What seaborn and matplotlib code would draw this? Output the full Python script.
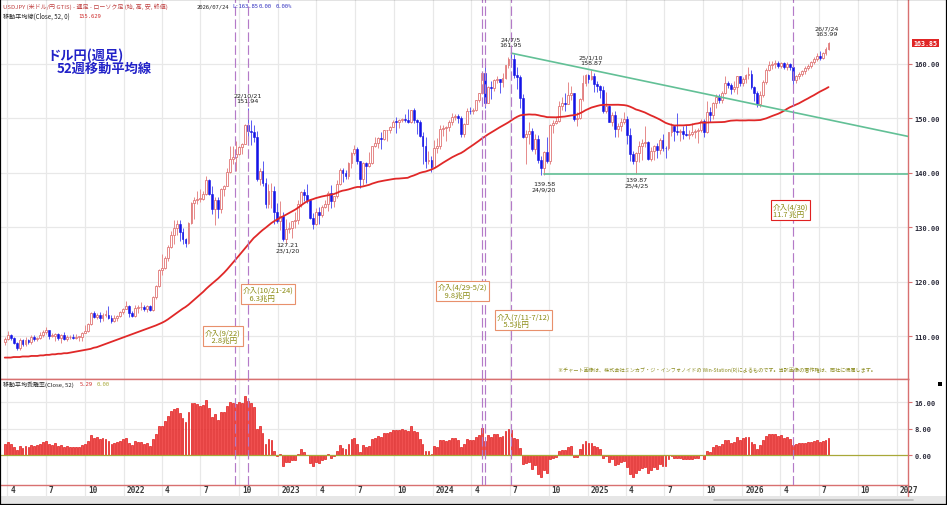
import numpy as np
import pandas as pd
import matplotlib
matplotlib.use("Agg")
import matplotlib.pyplot as plt
import matplotlib.dates as mdates
import matplotlib.transforms as mtrans
from matplotlib.patches import Rectangle
from matplotlib.lines import Line2D
import seaborn as sns

# ---------------- data (weekly USD/JPY) ----------------
first_week = "2021-03-26"
last_week = "2026-07-24"
first_open = 108.9

closes = [
    # 2021
    109.6, 110.3, 109.7, 108.8, 107.9, 109.3, 108.6, 109.4, 108.9, 109.8,
    109.5, 109.7, 110.2, 110.8, 111.1, 110.1, 110.1, 110.5, 109.7, 110.2,
    109.6, 109.8, 109.8, 109.7, 109.9, 109.9, 110.7, 111.0, 112.2, 114.2,
    113.5, 114.0, 113.4, 114.0, 114.0, 113.4, 112.8, 113.4, 113.7, 114.4,
    115.1,
    # 2022
    115.6, 114.2, 113.7, 115.2, 115.3, 115.4, 115.0, 115.5, 114.8, 117.3,
    119.2, 122.1, 122.5, 124.3, 126.4, 128.5, 129.8, 130.6, 129.2, 127.9,
    127.1, 130.8, 134.4, 135.0, 135.2, 135.2, 136.1, 138.6, 136.1, 133.3,
    135.0, 133.4, 137.0, 137.5, 140.2, 142.6, 142.9, 143.4, 144.7, 145.3,
    148.7, 147.6, 147.5, 146.6, 138.8, 140.4, 138.2, 134.3, 136.6, 136.7,
    132.8, 131.1,
    # 2023
    132.1, 127.9, 129.6, 129.9, 131.2, 131.4, 134.2, 136.5, 135.9, 135.0,
    131.8, 130.7, 132.8, 132.2, 133.7, 134.2, 136.3, 134.8, 135.7, 138.0,
    140.6, 139.9, 139.4, 141.8, 143.7, 144.3, 142.1, 138.8, 141.8, 141.2,
    141.8, 144.9, 145.4, 146.4, 146.2, 147.8, 147.9, 148.4, 149.4, 149.3,
    149.6, 149.9, 149.7, 149.4, 151.5, 149.6, 149.4, 146.8, 144.9, 142.2,
    142.4, 141.0,
    # 2024
    144.6, 144.9, 148.1, 148.2, 148.4, 149.3, 150.2, 150.5, 150.1, 147.1,
    149.0, 151.4, 151.3, 151.6, 153.3, 154.6, 158.3, 152.9, 155.8, 155.6,
    157.0, 157.3, 156.7, 157.4, 159.8, 160.9, 160.8, 157.9, 157.5, 153.8,
    146.5, 147.2, 147.6, 144.4, 146.2, 142.3, 140.8, 143.9, 142.2, 148.7,
    149.1, 149.5, 152.3, 152.9, 152.6, 154.3, 154.7, 149.8, 150.0, 153.6,
    156.4, 157.9,
    # 2025
    157.3, 157.7, 156.3, 156.0, 155.2, 151.4, 152.3, 149.3, 150.6, 148.0,
    148.6, 149.3, 149.8, 146.9, 143.5, 142.2, 143.7, 144.9, 145.4, 145.7,
    142.6, 144.0, 144.9, 144.1, 146.1, 144.6, 144.5, 147.4, 148.6, 147.7,
    147.4, 147.7, 147.2, 146.9, 147.1, 147.4, 147.7, 147.9, 149.5, 147.5,
    151.2, 150.6, 152.9, 154.0, 153.4, 154.6, 156.4, 156.2, 155.3, 155.8,
    157.7, 156.5,
    # 2026
    157.2, 158.0, 158.1, 155.7, 154.6, 152.6, 154.3, 156.7, 158.9, 159.7,
    159.9, 160.2, 159.6, 160.1, 159.5, 159.9, 159.4, 157.0, 157.7, 158.2,
    158.6, 159.2, 159.6, 160.3, 160.8, 161.5, 161.0, 161.9, 162.7, 163.85,
]

highs = [
    109.9, 110.9, 110.5, 109.8, 108.9, 109.7, 109.6, 109.8, 109.5, 110.2,
    110.3, 109.9, 110.8, 111.1, 111.7, 111.2, 110.7, 110.6, 110.6, 110.4,
    110.8, 110.2, 110.2, 110.4, 110.4, 110.1, 110.8, 112.1, 112.5, 114.4,
    114.7, 114.3, 114.4, 114.3, 114.9, 115.5, 113.9, 113.9, 114.0, 114.6,
    115.2,
    116.4, 115.8, 114.6, 115.7, 115.7, 116.3, 115.7, 115.8, 115.8, 117.4,
    119.4, 122.4, 125.1, 124.7, 126.7, 129.4, 131.3, 131.3, 131.3, 129.8,
    128.0, 130.9, 134.6, 135.6, 136.7, 137.0, 136.6, 139.4, 138.9, 137.5,
    135.6, 135.6, 137.2, 137.7, 140.8, 145.0, 144.9, 145.9, 144.9, 145.4,
    148.9, 151.94, 149.7, 148.8, 147.6, 140.8, 142.2, 139.0, 137.9, 138.2,
    137.5, 134.5,
    134.8, 132.9, 131.6, 131.0, 131.2, 132.9, 135.1, 136.6, 137.1, 137.9,
    135.1, 132.6, 133.6, 133.8, 134.1, 135.1, 136.6, 137.8, 135.8, 138.7,
    140.9, 140.9, 140.5, 141.9, 143.8, 145.1, 144.7, 142.1, 142.0, 142.0,
    143.9, 145.0, 146.6, 146.6, 147.4, 147.9, 147.9, 148.5, 149.7, 150.2,
    149.8, 150.0, 150.8, 151.7, 151.6, 151.9, 149.8, 149.7, 147.5, 146.6,
    144.0, 143.0,
    146.0, 146.4, 148.8, 148.7, 148.6, 149.6, 150.9, 150.8, 150.8, 150.5,
    149.2, 151.9, 152.0, 151.9, 153.4, 154.7, 158.4, 160.2, 155.9, 156.8,
    157.2, 157.7, 157.0, 158.3, 159.8, 161.3, 161.95, 161.8, 159.5, 157.9,
    154.4, 147.9, 149.4, 148.3, 147.2, 147.0, 143.0, 144.0, 146.5, 149.0,
    149.6, 150.3, 153.2, 153.9, 154.7, 156.7, 155.9, 154.7, 151.2, 153.8,
    157.9, 158.1,
    158.1, 158.87, 158.4, 156.8, 156.2, 155.9, 154.8, 152.4, 151.2, 151.3,
    149.2, 150.1, 151.2, 150.5, 148.3, 144.0, 143.9, 145.9, 146.2, 148.6,
    145.9, 144.8, 145.1, 145.5, 146.3, 147.1, 145.0, 147.5, 149.2, 148.8,
    150.9, 148.0, 148.5, 148.8, 147.9, 149.1, 148.0, 148.3, 149.9, 149.9,
    153.2, 152.0, 153.0, 154.4, 154.5, 155.0, 157.8, 156.9, 156.4, 156.9,
    157.8, 157.8,
    157.5, 158.2, 159.4, 158.9, 156.0, 155.0, 155.0, 157.0, 159.2, 160.5,
    160.6, 160.7, 160.6, 160.4, 160.3, 160.4, 160.1, 160.0, 158.0, 158.5,
    158.9, 159.6, 160.0, 160.6, 161.2, 161.9, 162.3, 162.2, 163.0, 163.99,
]

lows = [
    108.4, 109.4, 109.4, 108.6, 107.5, 107.5, 108.3, 108.3, 108.6, 108.6,
    109.2, 109.2, 109.6, 109.9, 110.4, 109.5, 109.9, 109.1, 109.4, 108.7,
    109.4, 109.1, 109.6, 109.6, 109.6, 109.1, 109.1, 110.6, 110.8, 112.1,
    113.4, 113.2, 112.7, 112.9, 113.6, 113.1, 112.5, 112.7, 112.9, 113.6,
    114.1,
    115.0, 113.5, 113.5, 113.5, 114.2, 114.8, 114.6, 114.4, 114.6, 114.7,
    116.8, 119.0, 121.2, 122.3, 123.8, 126.2, 127.0, 128.6, 127.5, 127.0,
    126.4, 126.9, 130.6, 131.5, 134.3, 134.7, 135.1, 135.9, 136.0, 132.5,
    130.4, 131.7, 132.6, 135.8, 137.6, 140.0, 141.7, 140.3, 143.3, 143.5,
    145.2, 146.2, 145.1, 145.7, 138.5, 137.7, 137.5, 133.6, 133.6, 133.6,
    130.6, 130.8,
    129.5, 127.5, 127.21, 129.0, 128.1, 129.8, 130.6, 133.8, 134.8, 134.4,
    131.6, 129.6, 130.4, 130.6, 131.9, 133.5, 133.0, 133.5, 133.8, 135.3,
    137.7, 138.4, 138.8, 138.9, 140.9, 143.2, 141.7, 137.2, 137.7, 138.1,
    141.1, 141.6, 144.7, 144.5, 144.4, 146.0, 145.9, 147.3, 148.4, 147.3,
    148.2, 149.3, 149.3, 149.2, 149.2, 149.2, 147.2, 146.6, 141.6, 140.9,
    141.6, 140.2,
    140.8, 143.6, 144.3, 146.7, 145.9, 147.6, 148.7, 149.6, 149.2, 146.5,
    146.5, 148.9, 150.8, 150.8, 151.4, 153.0, 154.5, 151.9, 152.9, 153.6,
    155.1, 156.4, 154.6, 155.7, 157.2, 159.2, 160.3, 157.4, 155.4, 151.9,
    146.4, 141.7, 145.2, 144.0, 143.5, 141.8, 139.6, 139.58, 141.8, 141.6,
    147.3, 148.9, 149.3, 151.5, 151.3, 152.9, 153.3, 149.5, 148.6, 149.8,
    153.1, 156.0,
    156.4, 157.0, 154.8, 154.8, 153.7, 150.9, 150.9, 149.3, 148.6, 146.5,
    146.5, 147.7, 149.0, 145.2, 142.1, 141.6, 139.87, 142.0, 142.4, 144.8,
    142.4, 142.1, 142.4, 142.8, 143.5, 144.0, 142.7, 144.2, 146.8, 145.9,
    147.0, 145.9, 146.2, 146.8, 146.2, 146.8, 146.3, 145.5, 147.5, 146.6,
    147.3, 149.4, 149.9, 151.8, 152.8, 152.8, 154.5, 155.6, 154.5, 154.8,
    154.5, 155.9,
    156.0, 156.4, 157.3, 155.4, 153.1, 152.1, 152.0, 153.9, 156.3, 158.6,
    159.0, 159.3, 159.2, 159.3, 159.0, 158.8, 158.9, 155.3, 156.4, 157.2,
    157.8, 158.2, 158.9, 159.3, 160.0, 160.6, 160.7, 160.8, 161.6, 162.5,
]

# 52-week MA for the weeks before the window is complete
ma_window = 52
ma_head = [
    106.1, 106.1, 106.1, 106.2, 106.2, 106.2, 106.3, 106.3, 106.3, 106.4,
    106.4, 106.4, 106.5, 106.5, 106.6, 106.6, 106.7, 106.7, 106.8, 106.8,
    106.9, 106.9, 107.0, 107.1, 107.2, 107.3, 107.4, 107.5, 107.6, 107.7,
    107.9, 108.0, 108.2, 108.4, 108.6, 108.8, 109.0, 109.2, 109.4, 109.6,
    109.8, 110.0, 110.2, 110.4, 110.6, 110.8, 111.0, 111.2, 111.4, 111.6,
    111.8,
]

price_ticks = [110, 120, 130, 140, 150, 160]
dev_ticks = [0, 8, 16]
intervention_lines = ["2022-09-22", "2022-10-21", "2024-04-26", "2024-05-03",
                      "2024-07-04", "2026-04-30"]
trend_dates = ["2024-07-05", "2025-01-10"]      # trendline through these highs
support_start = "2024-09-20"
support_date = "2025-04-25"                       # level = low of this week

note_texts = ["介入(9/22)\n    2.8兆円", "介入(10/21-24)\n    6.3兆円",
              "介入(4/29-5/2)\n    9.8兆円", "介入(7/11-7/12)\n    5.5兆円",
              "介入(4/30)\n11.7 兆円"]
note_dates = ["2022-07-12", "2022-10-09", "2024-01-13", "2024-06-01", "2026-03-14"]
note_prices = [111.5, 119.3, 119.8, 114.4, 134.6]
note_edges = ["#e8906c", "#e8906c", "#e8906c", "#e8906c", "#e02020"]

peak_texts = ["22/10/21\n151.94", "127.21\n23/1/20", "24/7/5\n161.95",
              "139.58\n24/9/20", "25/1/10\n158.87", "139.87\n25/4/25",
              "26/7/24\n163.99"]
peak_dates = ["2022-10-21", "2023-01-23", "2024-07-02", "2024-09-20",
              "2025-01-09", "2025-04-27", "2026-07-19"]
peak_prices = [153.7, 126.4, 164.0, 137.6, 160.8, 138.3, 166.1]

# ---------------- style ----------------
sns.set_theme(style="white")
plt.rcParams["font.family"] = ["DejaVu Sans", "Noto Sans CJK JP"]
JP = ["Noto Sans CJK JP", "DejaVu Sans"]
MONO = "DejaVu Sans Mono"

W, H = 947, 506
fig = plt.figure(figsize=(W / 100, H / 100), dpi=100)
fig.patch.set_facecolor("white")


def fx(px):
    return px / W


def fy(py):
    return 1 - py / H


ax = fig.add_axes([0, fy(380), fx(908), 380 / H])
ax2 = fig.add_axes([0, fy(486), fx(908), 106 / H])

weeks = pd.date_range(first_week, last_week, freq="W-FRI")
x = mdates.date2num(weeks.to_pydatetime())
c = np.array(closes, dtype=float)
h = np.array(highs, dtype=float)
l = np.array(lows, dtype=float)
o = np.r_[first_open, c[:-1]]
h = np.maximum(h, np.maximum(o, c))
l = np.minimum(l, np.minimum(o, c))

ma = pd.Series(c).rolling(ma_window).mean().to_numpy()
ma[:len(ma_head)] = ma_head
dev = (c - ma) / ma * 100

base = mdates.date2num(pd.Timestamp("2021-04-01"))
ppd = 0.4233  # pixels per day
xlim = (base - 7.3 / ppd, base + (908 - 7.3) / ppd)

grid_c = "#e8e8e8"
quarters = pd.date_range("2021-04-01", "2027-01-01", freq="QS")
qx = mdates.date2num(quarters.to_pydatetime())

for a in (ax, ax2):
    a.set_facecolor("white")
    for q in qx:
        a.axvline(q, color=grid_c, lw=0.9, zorder=0)
    a.set_xlim(*xlim)
    a.set_xticks([])
    for s in ("left", "top"):
        a.spines[s].set_visible(False)
    for s in ("right", "bottom"):
        a.spines[s].set_color("#d87070")
        a.spines[s].set_linewidth(1.0)

for p in price_ticks:
    ax.axhline(p, color=grid_c, lw=0.9, zorder=0)

# candles
up = c >= o
body_w = 4.4
ax.vlines(x[up], l[up], h[up], color="#e68a8a", lw=0.7, zorder=2)
ax.vlines(x[~up], l[~up], h[~up], color="#5a5af2", lw=0.7, zorder=2)
ax.bar(x[up], np.maximum(c - o, 0.12)[up], bottom=o[up], width=body_w,
       facecolor="white", edgecolor="#e07575", linewidth=0.6, zorder=3)
ax.bar(x[~up], np.maximum(o - c, 0.12)[~up], bottom=c[~up], width=body_w,
       facecolor="#1414e6", edgecolor="#1414e6", linewidth=0.4, zorder=3)

# moving average
sns.lineplot(x=x, y=ma, ax=ax, color="#e02828", linewidth=1.3, zorder=4,
             errorbar=None, sort=False)

# trend lines
t_idx = [weeks.get_loc(pd.Timestamp(d)) for d in trend_dates]
tx = x[t_idx]
ty = h[t_idx]
slope = (ty[1] - ty[0]) / (tx[1] - tx[0])
ax.plot([tx[0], xlim[1]], [ty[0], ty[0] + slope * (xlim[1] - tx[0])],
        color="#62c096", lw=1.2, zorder=4)
s_level = l[weeks.get_loc(pd.Timestamp(support_date))]
sx = mdates.date2num(pd.Timestamp(support_start))
ax.plot([sx, xlim[1]], [s_level, s_level], color="#62c096", lw=1.2, zorder=4)

ax.set_ylim(102.17, 171.89)
ax.yaxis.tick_right()
ax.set_yticks(price_ticks)
ax.set_yticklabels([f"{p:.2f}" for p in price_ticks], fontsize=5.0,
                   family=MONO, fontweight="bold", color="#2a2a3a")
ax.tick_params(axis="y", right=True, left=False, length=3, width=0.8,
               color="#d87070", pad=1.5)
ax.set_xlabel("")
ax.set_ylabel("")

# lower panel: deviation
ax2.bar(x, dev, width=body_w, facecolor="#f05050", edgecolor="#e01a1a",
        linewidth=0.5, zorder=3)
for v in dev_ticks[1:]:
    ax2.axhline(v, color=grid_c, lw=0.9, zorder=0)
ax2.axhline(0, color="#a8a838", lw=0.9, zorder=4)
ax2.set_ylim(-8.93, 22.95)
ax2.yaxis.tick_right()
ax2.set_yticks(dev_ticks)
ax2.set_yticklabels([f"{v:.2f}" for v in dev_ticks], fontsize=5.0, family=MONO,
                    fontweight="bold", color="#2a2a3a")
ax2.tick_params(axis="y", right=True, left=False, length=3, width=0.8,
                color="#d87070", pad=1.5)
ax2.spines["top"].set_visible(True)
ax2.spines["top"].set_color("#d87070")
ax2.spines["top"].set_linewidth(1.0)

# intervention dashed lines
for d in intervention_lines:
    dn = mdates.date2num(pd.Timestamp(d))
    for a in (ax, ax2):
        a.axvline(dn, color="#b47ac8", lw=0.85, ls=(0, (8, 3)), zorder=5)

# x labels under the lower panel
blend2 = mtrans.blended_transform_factory(ax2.transData, ax2.transAxes)
lab_tr = mtrans.offset_copy(blend2, fig=fig, x=3, y=0, units="dots")
for q, qd in zip(qx, quarters):
    lab = str(qd.year) if qd.month == 1 else str(qd.month)
    ax2.text(q, -0.04, lab, transform=lab_tr, ha="left", va="center",
             fontsize=5.6, family=MONO, fontweight="bold", color="#3a3a3a",
             clip_on=False)
    ax2.plot([q, q], [-0.1, 0], transform=blend2, color=grid_c, lw=0.9,
             clip_on=False, zorder=0)
ax2.plot([1, 1], [-0.1, 0], transform=ax2.transAxes, color="#d87070", lw=1.0,
         clip_on=False)

# annotation boxes
for t, d, p, ec in zip(note_texts, note_dates, note_prices, note_edges):
    ax.text(mdates.date2num(pd.Timestamp(d)), p, t, ha="left", va="top",
            fontsize=5.4, color="#8a8a12", family=JP, linespacing=1.0,
            zorder=7,
            bbox=dict(boxstyle="square,pad=0.25", fc="white", ec=ec, lw=0.8))

# peak / trough labels
for t, d, p in zip(peak_texts, peak_dates, peak_prices):
    ax.text(mdates.date2num(pd.Timestamp(d)), p, t, ha="center", va="center",
            fontsize=4.6, color="#222222", linespacing=1.1, zorder=7)

# last price tag
blend1 = mtrans.blended_transform_factory(ax.transAxes, ax.transData)
ax.text(1.006, c[-1], f"{c[-1]:.2f}", transform=blend1, ha="left", va="center",
        fontsize=4.8, family=MONO, color="white", fontweight="bold",
        clip_on=False,
        bbox=dict(boxstyle="square,pad=0.18", fc="#e02525", ec="none"))

# headers
fig.text(fx(3), fy(7), "USDJPY (米ドル/円 GTIS) - 週足 - ローソク足 (始, 高, 安, 終値)",
         fontsize=4.3, color="#c04040", family=JP, va="center", ha="left")
fig.text(fx(197), fy(7), "2026/07/24", fontsize=4.0, color="#222222",
         family=MONO, va="center", ha="left")
fig.text(fx(232), fy(7), "L:163.85", fontsize=4.0, color="#3030c0",
         family=MONO, va="center", ha="left")
fig.text(fx(259), fy(7), "0.00", fontsize=4.0, color="#3030c0",
         family=MONO, va="center", ha="left")
fig.text(fx(276), fy(7), "0.00%", fontsize=4.0, color="#3030c0",
         family=MONO, va="center", ha="left")
fig.text(fx(3), fy(17), "移動平均線(Close, 52, 0)", fontsize=4.4, color="#222222",
         family=JP, va="center", ha="left")
fig.text(fx(78), fy(17), "155.629", fontsize=4.0, color="#d03030",
         family=MONO, va="center", ha="left")
fig.text(fx(3), fy(385), "移動平均乖離率(Close, 52)", fontsize=4.3, color="#222222",
         family=JP, va="center", ha="left")
fig.text(fx(80), fy(385), "5.29", fontsize=4.0, color="#d03030",
         family=MONO, va="center", ha="left")
fig.text(fx(97), fy(385), "0.00", fontsize=4.0, color="#a8a838",
         family=MONO, va="center", ha="left")

# title
fig.text(fx(47), fy(56), "ドル円(週足)", fontsize=9.5, color="#2222c8",
         family=JP, fontweight="bold", va="center", ha="left")
fig.text(fx(57), fy(69), "52週移動平均線", fontsize=9.5, color="#2222c8",
         family=JP, fontweight="bold", va="center", ha="left")

# credit note
fig.text(fx(558), fy(370),
         "※チャート画像は、株式会社ミンカブ・ジ・インフォノイドの Win-Station(R)によるものです。当該画像の著作権は、同社に帰属します。",
         fontsize=3.7, color="#8c8c20", family=JP, va="center", ha="left")

# chrome: bottom scroll band, small square, border
fig.add_artist(Rectangle((0, 0), 1, 9 / H, transform=fig.transFigure,
                         facecolor="#e6e6e6", edgecolor="none", zorder=0))
fig.add_artist(Line2D([fx(714), fx(913)], [fy(501), fy(501)],
                      transform=fig.transFigure, color="#b8b8b8", lw=1.2))
fig.add_artist(Rectangle((fx(938), fy(387)), 4 / W, 4 / H,
                         transform=fig.transFigure, facecolor="black",
                         edgecolor="none"))
fig.add_artist(Rectangle((0, 0), 1, 1, transform=fig.transFigure, fill=False,
                         edgecolor="black", lw=1.6))

fig.savefig("out.png", dpi=100)
